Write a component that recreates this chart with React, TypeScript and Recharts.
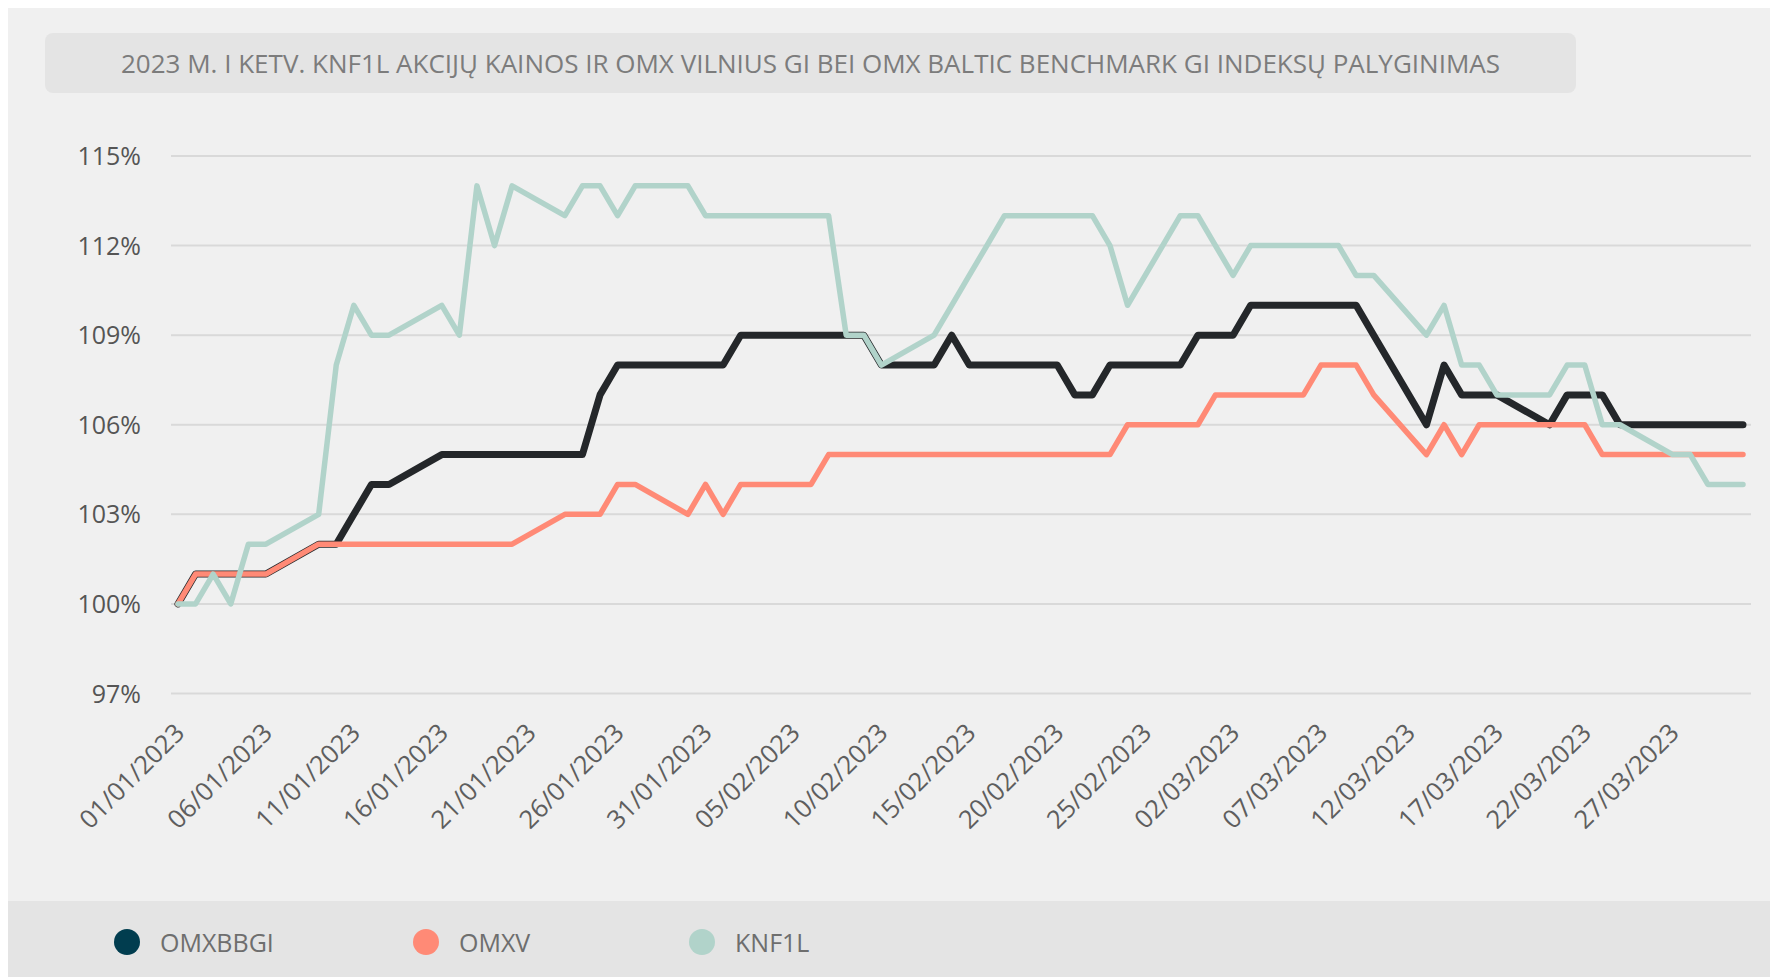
import React from "react";
import { LineChart, Line, XAxis, YAxis, CartesianGrid } from "recharts";

const dates = [
  "01/01/2023","02/01/2023","03/01/2023","04/01/2023","05/01/2023","06/01/2023","07/01/2023","08/01/2023","09/01/2023","10/01/2023",
  "11/01/2023","12/01/2023","13/01/2023","14/01/2023","15/01/2023","16/01/2023","17/01/2023","18/01/2023","19/01/2023","20/01/2023",
  "21/01/2023","22/01/2023","23/01/2023","24/01/2023","25/01/2023","26/01/2023","27/01/2023","28/01/2023","29/01/2023","30/01/2023",
  "31/01/2023","01/02/2023","02/02/2023","03/02/2023","04/02/2023","05/02/2023","06/02/2023","07/02/2023","08/02/2023","09/02/2023",
  "10/02/2023","11/02/2023","12/02/2023","13/02/2023","14/02/2023","15/02/2023","16/02/2023","17/02/2023","18/02/2023","19/02/2023",
  "20/02/2023","21/02/2023","22/02/2023","23/02/2023","24/02/2023","25/02/2023","26/02/2023","27/02/2023","28/02/2023","01/03/2023",
  "02/03/2023","03/03/2023","04/03/2023","05/03/2023","06/03/2023","07/03/2023","08/03/2023","09/03/2023","10/03/2023","11/03/2023",
  "12/03/2023","13/03/2023","14/03/2023","15/03/2023","16/03/2023","17/03/2023","18/03/2023","19/03/2023","20/03/2023","21/03/2023",
  "22/03/2023","23/03/2023","24/03/2023","25/03/2023","26/03/2023","27/03/2023","28/03/2023","29/03/2023","30/03/2023","31/03/2023",
];

const N = null;
const omxbbgi = [
  100,101,101,101,101,101,N,N,102,102,103,104,104,N,N,105,105,105,105,105,N,N,105,105,107,108,108,N,N,108,
  108,108,109,109,N,N,109,109,109,109,108,N,N,108,109,108,108,108,N,N,108,107,107,108,108,N,N,108,109,109,
  109,110,N,N,110,110,110,110,109,N,N,106,108,107,107,107,N,N,106,107,107,107,106,N,N,106,106,106,106,106,
];
const omxv = [
  100,101,101,101,101,101,N,N,102,102,102,102,102,N,N,102,102,102,102,102,N,N,103,103,103,104,104,N,N,103,
  104,103,104,104,N,N,104,105,105,105,105,N,N,105,105,105,105,105,N,N,105,105,105,105,106,N,N,106,106,107,
  107,107,N,N,107,108,108,108,107,N,N,105,106,105,106,106,N,N,106,106,106,105,105,N,N,105,105,105,105,105,
];
const knf1l = [
  100,100,101,100,102,102,N,N,103,108,110,109,109,N,N,110,109,114,112,114,N,N,113,114,114,113,114,N,N,114,
  113,113,113,113,N,N,113,113,109,109,108,N,N,109,110,111,112,113,N,N,113,113,113,112,110,N,N,113,113,112,
  111,112,N,N,112,112,112,111,111,N,N,109,110,108,108,107,N,N,107,108,108,106,106,N,N,105,105,104,104,104,
];

const yTicks = [97, 100, 103, 106, 109, 112, 115];

const seriesNames = ["OMXBBGI", "OMXV", "KNF1L"];
const lineColors = ["#24272a", "#ff8a76", "#b1d3ca"];
const legendColors = ["#013d4f", "#ff8a76", "#b1d3ca"];

const data = dates.map((d, i) => ({
  date: d,
  OMXBBGI: omxbbgi[i],
  OMXV: omxv[i],
  KNF1L: knf1l[i],
}));

const FONT = "'Open Sans', 'Noto Sans', sans-serif";

const XTick = (props: any) => {
  const { x, y, payload } = props;
  return (
    <g transform={`translate(${x + 8},${y + 41})`}>
      <text x={0} y={0} textAnchor="end" transform="rotate(-45)" fill="#5e5e5e" fontSize={25.5} fontFamily={FONT}>
        {payload.value}
      </text>
    </g>
  );
};

const YTick = (props: any) => {
  const { x, y, payload } = props;
  return (
    <text x={x} y={y} dy={9} textAnchor="end" fill="#555555" fontSize={25} fontFamily={FONT}>
      {payload.value}%
    </text>
  );
};

export default function App() {
  const legendX = [119, 418, 694];
  return (
    <div style={{ position: "relative", width: 1770, height: 969, background: "#f0f0f0", overflow: "hidden", fontFamily: FONT }}>
      <div
        style={{
          position: "absolute", left: 37, top: 25, width: 1531, height: 60,
          background: "#e4e4e4", borderRadius: 8, color: "#7c7c7c", fontSize: 26,
          lineHeight: "60px", textAlign: "center", whiteSpace: "nowrap",
        }}
      >
        2023 M. I KETV. KNF1L AKCIJŲ KAINOS IR OMX VILNIUS GI BEI OMX BALTIC BENCHMARK GI INDEKSŲ PALYGINIMAS
      </div>
      <div style={{ position: "absolute", left: 0, top: 0 }}>
        <LineChart width={1770} height={893} data={data} margin={{ top: 148, right: 27, left: 63, bottom: 57.5 }}>
          <CartesianGrid horizontal vertical={false} stroke="#d9d9d9" strokeWidth={2} />
          <XAxis
            dataKey="date"
            interval={4}
            height={150}
            tickLine={false}
            axisLine={false}
            tickSize={0}
            tickMargin={0}
            padding={{ left: 7, right: 8 }}
            tick={<XTick />}
          />
          <YAxis
            width={100}
            domain={[97, 115]}
            ticks={yTicks}
            type="number"
            tickLine={false}
            axisLine={false}
            tickSize={0}
            tickMargin={30}
            tick={<YTick />}
          />
          {seriesNames.map((name, k) => (
            <Line
              key={name}
              type="linear"
              dataKey={name}
              stroke={lineColors[k]}
              strokeWidth={k === 0 ? 7 : 5.5}
              strokeLinejoin="round"
              strokeLinecap="round"
              dot={false}
              activeDot={false}
              connectNulls
              isAnimationActive={false}
            />
          ))}
        </LineChart>
      </div>
      <div style={{ position: "absolute", left: 0, top: 893, width: 1770, height: 76, background: "#e4e4e4" }}>
        {seriesNames.map((name, k) => (
          <div key={name} style={{ position: "absolute", left: legendX[k] - 13, top: 37 - 13, display: "flex", alignItems: "center" }}>
            <div style={{ width: 26, height: 26, borderRadius: 13, background: legendColors[k] }} />
            <span style={{ marginLeft: 20, fontSize: 25, color: "#6e6e6e" }}>{name}</span>
          </div>
        ))}
      </div>
    </div>
  );
}
